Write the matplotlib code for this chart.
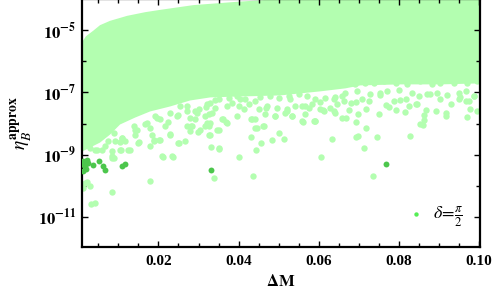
import matplotlib
matplotlib.use("Agg")
import matplotlib.pyplot as plt
from matplotlib.ticker import FixedLocator, FuncFormatter, MultipleLocator
import numpy as np

plt.rcParams['font.family'] = ['Liberation Serif', 'DejaVu Serif']
plt.rcParams['mathtext.fontset'] = 'stix'

# dense band: upper and lower envelope of the solid cloud
band_top_x = [0.0009, 0.0019, 0.0037, 0.0054, 0.0079, 0.0122, 0.0167, 0.0204,
              0.0287, 0.0397, 0.0479, 0.1005]
band_top_y = [4.1e-6, 6.4e-6, 9.6e-6, 1.45e-5, 2.0e-5, 2.9e-5, 3.8e-5, 4.5e-5,
              6.4e-5, 8.2e-5, 9.6e-5, 1.3e-4]
band_low_x = [0.0009, 0.0054, 0.0079, 0.0104, 0.0142, 0.0179, 0.0229, 0.0279,
              0.0329, 0.0404, 0.0504, 0.0604, 0.0667, 0.0704, 0.0804, 0.0904, 0.1005]
band_low_y = [1.25e-9, 2.44e-9, 4.4e-9, 9.3e-9, 1.56e-8, 2.44e-8, 3.53e-8, 5.5e-8,
              6.9e-8, 7.4e-8, 8.0e-8, 1.08e-7, 1.35e-7, 1.68e-7, 1.81e-7, 1.81e-7, 1.95e-7]

# ragged edge just under the band, right part
edge_r_x = [0.0671, 0.0692, 0.0717, 0.0738, 0.0763, 0.0792, 0.0821, 0.0854, 0.0883,
            0.0904, 0.0938, 0.0971, 0.0996,
            0.0667, 0.0696, 0.0729, 0.0754, 0.0771, 0.0800, 0.0834, 0.0850, 0.0871,
            0.0896, 0.0921, 0.0950, 0.0967, 0.0988,
            0.0663, 0.0694, 0.0708, 0.0725, 0.0788, 0.0817, 0.0846, 0.0950, 0.0975]
edge_r_y = [2.06e-7, 1.81e-7, 2.06e-7, 1.95e-7, 2.32e-7, 2.06e-7, 1.81e-7, 2.32e-7, 1.81e-7,
            2.06e-7, 1.95e-7, 2.06e-7, 2.32e-7,
            9.8e-8, 1.1e-7, 8.6e-8, 9.8e-8, 1.1e-7, 1.19e-7, 9.8e-8, 7.6e-8, 8.6e-8,
            9.8e-8, 8.0e-8, 9.8e-8, 1.1e-7, 7.6e-8,
            5.24e-8, 4.87e-8, 5.95e-8, 5.24e-8, 5.24e-8, 6.3e-8, 4.3e-8, 5.95e-8, 5.24e-8]

# ragged edge, middle part
edge_m_x = [0.0329, 0.0350, 0.0375, 0.0396, 0.0417, 0.0442, 0.0479, 0.0500, 0.0525,
            0.0550, 0.0571, 0.0592, 0.0617, 0.0638, 0.0659,
            0.0321, 0.0342, 0.0371, 0.0400, 0.0425, 0.0450, 0.0471, 0.0496, 0.0521,
            0.0542, 0.0567, 0.0584, 0.0604, 0.0629, 0.0646,
            0.0325, 0.0359, 0.0396, 0.0434, 0.0467, 0.0492, 0.0517, 0.0534, 0.0567,
            0.0588, 0.0613, 0.0642, 0.0659,
            0.0329, 0.0350, 0.0371, 0.0442, 0.0463, 0.0559, 0.0592, 0.0326]
edge_m_y = [4.65e-8, 5.95e-8, 6.7e-8, 7.6e-8, 5.95e-8, 5.25e-8, 7.6e-8, 6.7e-8, 7.6e-8,
            8.6e-8, 7.6e-8, 5.95e-8, 6.7e-8, 5.95e-8, 7.6e-8,
            4.1e-8, 3.2e-8, 3.6e-8, 3.6e-8, 4.1e-8, 2.83e-8, 3.6e-8, 3.2e-8, 2.83e-8,
            3.6e-8, 3.6e-8, 4.1e-8, 2.83e-8, 3.2e-8, 4.1e-8,
            1.95e-8, 1.35e-8, 1.72e-8, 1.41e-8, 1.95e-8, 1.72e-8, 2.2e-8, 1.72e-8, 1.95e-8,
            1.19e-8, 2.5e-8, 2.2e-8, 1.52e-8,
            1.05e-8, 6.4e-9, 1.05e-8, 7.25e-9, 8.2e-9, 1.19e-8, 1.19e-8, 4.4e-9]

# ragged edge, left part
edge_l_x = [0.0067, 0.0088, 0.0075, 0.0092, 0.0108, 0.0117, 0.0138, 0.0146, 0.0150,
            0.0171, 0.0179, 0.0183, 0.0188, 0.0204, 0.0192, 0.0204, 0.0217, 0.0229,
            0.0208, 0.0233, 0.0250, 0.0229, 0.0246, 0.0254, 0.0271, 0.0271, 0.0279,
            0.0292, 0.0296, 0.0300, 0.0317, 0.0321, 0.0283, 0.0304, 0.0325, 0.0271,
            0.0333, 0.0267, 0.0029, 0.0042, 0.0059, 0.0084, 0.0088, 0.0104, 0.0125]
edge_l_y = [1.05e-8, 5.0e-9, 2.7e-9, 2.7e-9, 3.45e-9, 2.7e-9, 8.2e-9, 6.4e-9, 2.38e-9,
            1.05e-8, 7.25e-9, 4.4e-9, 2.7e-9, 3.05e-9, 1.72e-8, 1.35e-8, 8.2e-9, 4.4e-9,
            8.8e-10, 8.8e-10, 2.38e-9, 2.2e-8, 1.72e-8, 3.6e-8, 3.6e-8, 2.5e-8, 1.52e-8,
            1.35e-8, 2.2e-8, 2.83e-8, 1.72e-8, 1.05e-8, 8.2e-9, 6.4e-9, 8.2e-9, 8.2e-9,
            2.2e-8, 2.7e-9, 1.64e-9, 1.45e-9, 1.45e-9, 1.28e-9, 7.8e-10, 1.45e-9, 1.45e-9]

# scattered light points further below the band
light_x = [0.0142, 0.0152, 0.0128, 0.0107, 0.0084, 0.0085, 0.0179, 0.0189, 0.0202,
           0.0228, 0.0252, 0.0211, 0.0236, 0.0179, 0.0084, 0.0021, 0.0028, 0.0031,
           0.0042, 0.0017, 0.0012, 0.0279, 0.0282, 0.0299, 0.0317, 0.0329, 0.0346,
           0.0332, 0.0350, 0.0338, 0.0436, 0.0401, 0.0444, 0.0456, 0.0431, 0.0446,
           0.0461, 0.0500, 0.0484, 0.0514, 0.0352, 0.0634, 0.0606, 0.0736, 0.0714,
           0.0693, 0.0698, 0.0746, 0.0829, 0.0719, 0.0694, 0.0669, 0.0853, 0.0861,
           0.0862, 0.0863, 0.0867, 0.0892, 0.0918, 0.0917, 0.0971, 0.0979, 0.0996,
           0.0752, 0.0794, 0.0816, 0.0699, 0.0675, 0.0719, 0.0767, 0.0776, 0.0825,
           0.0844, 0.0931, 0.0969, 0.0989, 0.0904, 0.0431, 0.0440, 0.0369, 0.0361,
           0.0562, 0.0591, 0.0534, 0.0490, 0.0638, 0.0611, 0.0559, 0.0577, 0.0468,
           0.0521, 0.0197, 0.0224, 0.0249, 0.0167, 0.0142, 0.0109, 0.0067, 0.0047,
           0.0104, 0.0292, 0.0319, 0.0384, 0.0414, 0.0342, 0.0454, 0.0404, 0.0529,
           0.0642, 0.0680, 0.0604, 0.0754, 0.0879, 0.0954, 0.0804]
light_y = [4.4e-9, 2.5e-9, 1.38e-9, 1.45e-9, 7.6e-10, 9.3e-10, 1.95e-9, 2.9e-9, 3.05e-9,
           4.65e-9, 2.38e-9, 8.6e-10, 8.6e-10, 1.38e-10, 6.5e-11, 1.28e-10, 1.0e-10, 2.5e-11,
           2.83e-11, 1.25e-10, 8.6e-11, 5.65e-9, 8.2e-9, 5.24e-9, 8.2e-9, 4.4e-9, 6.1e-9,
           1.72e-9, 1.6e-9, 1.77e-10, 2.1e-10, 8.2e-10, 1.38e-9, 2.3e-9, 3.8e-9, 7.3e-9,
           8.2e-9, 4.9e-9, 3.05e-9, 3.1e-9, 1.56e-9, 3.1e-9, 8.2e-10, 2.0e-10, 1.6e-9,
           3.6e-9, 3.9e-9, 3.6e-9, 3.9e-9, 7.05e-9, 1.1e-8, 1.48e-8, 9.3e-9, 9.0e-9,
           1.28e-8, 1.81e-8, 2.69e-8, 2.5e-8, 1.72e-8, 2.2e-8, 1.64e-8, 2.83e-8, 2.6e-8,
           1.95e-8, 2.69e-8, 2.3e-8, 2.06e-8, 2.69e-8, 2.98e-8, 3.9e-8, 3.36e-8, 3.6e-8,
           4.2e-8, 4.1e-8, 5.24e-8, 7.6e-8, 6.3e-8, 1.42e-8, 1.42e-8, 1.1e-8, 1.35e-8,
           1.16e-8, 1.18e-8, 1.72e-8, 1.72e-8, 2.5e-8, 2.69e-8, 3.6e-8, 3.2e-8, 3.2e-8,
           2.5e-8, 1.56e-8, 1.16e-8, 1.81e-8, 9.3e-9, 6.4e-9, 3.5e-9, 1.95e-9, 1.45e-9,
           2.6e-9, 2.44e-8, 3.3e-8, 4.4e-8, 2.83e-8, 5.5e-8, 6.9e-8, 5.95e-8, 5.95e-8,
           6.9e-8, 4.4e-8, 4.75e-8, 8.0e-8, 8.6e-8, 6.9e-8, 5.5e-8]

# darker points
dark_x = [0.00125, 0.0017, 0.00125, 0.0025, 0.0019, 0.00375, 0.00525, 0.00625,
          0.0067, 0.0109, 0.0117, 0.0332, 0.0767, 0.00143, 0.0022]
dark_y = [6.1e-10, 4.2e-10, 2.9e-10, 5.4e-10, 3.5e-10, 4.75e-10, 6.1e-10, 4.2e-10,
          3.1e-10, 4.4e-10, 5.0e-10, 3.1e-10, 5.1e-10, 4.75e-10, 6.9e-10]

light = '#b3feb0'
dark = '#4cc64c'

fig = plt.figure(figsize=(5.0, 3.03), dpi=100)
ax = fig.add_axes([0.164, 0.186, 0.796, 0.817])

ax.fill(np.concatenate([band_top_x, band_low_x[::-1]]),
        np.concatenate([band_top_y, band_low_y[::-1]]),
        color=light, lw=0, zorder=1)
for xs, ys in [(edge_r_x, edge_r_y), (edge_m_x, edge_m_y),
               (edge_l_x, edge_l_y), (light_x, light_y)]:
    ax.scatter(xs, ys, s=21, color=light, lw=0, zorder=2)
ax.scatter(dark_x, dark_y, s=18, color=dark, lw=0, zorder=3)

ax.set_yscale('log')
ax.set_xlim(0.0009, 0.1003)
ax.set_ylim(1.1e-12, 1e-4)

ax.xaxis.set_major_locator(FixedLocator([0.02, 0.04, 0.06, 0.08, 0.10]))
ax.xaxis.set_minor_locator(MultipleLocator(0.005))
ax.xaxis.set_major_formatter(FuncFormatter(lambda v, p: '%.2f' % v))
ax.yaxis.set_major_locator(FixedLocator([1e-11, 1e-9, 1e-7, 1e-5]))
ax.yaxis.set_minor_locator(FixedLocator([1e-12, 1e-10, 1e-8, 1e-6]))
ax.yaxis.set_major_formatter(FuncFormatter(
    lambda v, p: r'$\mathbf{10^{%d}}$' % round(np.log10(v))))
ax.yaxis.set_minor_formatter(FuncFormatter(lambda v, p: ''))

for s in ax.spines.values():
    s.set_linewidth(1.6)
ax.tick_params(which='both', direction='in', top=True, right=True, width=1.0)
ax.tick_params(which='major', length=4.5)
ax.tick_params(which='minor', length=3)
ax.tick_params(axis='x', which='major', pad=6, labelsize=11)
ax.tick_params(axis='y', which='major', pad=4, labelsize=12)
for lab in ax.get_xticklabels():
    lab.set_fontweight('bold')

ax.set_xlabel(r'$\mathbf{\Delta M}$', fontsize=12, labelpad=4)
ax.set_ylabel(r'$\eta_B^{\mathbf{approx}}$', fontsize=14, labelpad=2)

ax.scatter([], [], s=10, color='#55ee55', lw=0, label=r'$\delta\!=\!\frac{\pi}{2}$')
ax.legend(loc='center left', bbox_to_anchor=(0.79, 0.12), frameon=False,
          fontsize=13, handletextpad=0.3, borderpad=0, handlelength=1.2)

fig.savefig('out.png', dpi=100)
